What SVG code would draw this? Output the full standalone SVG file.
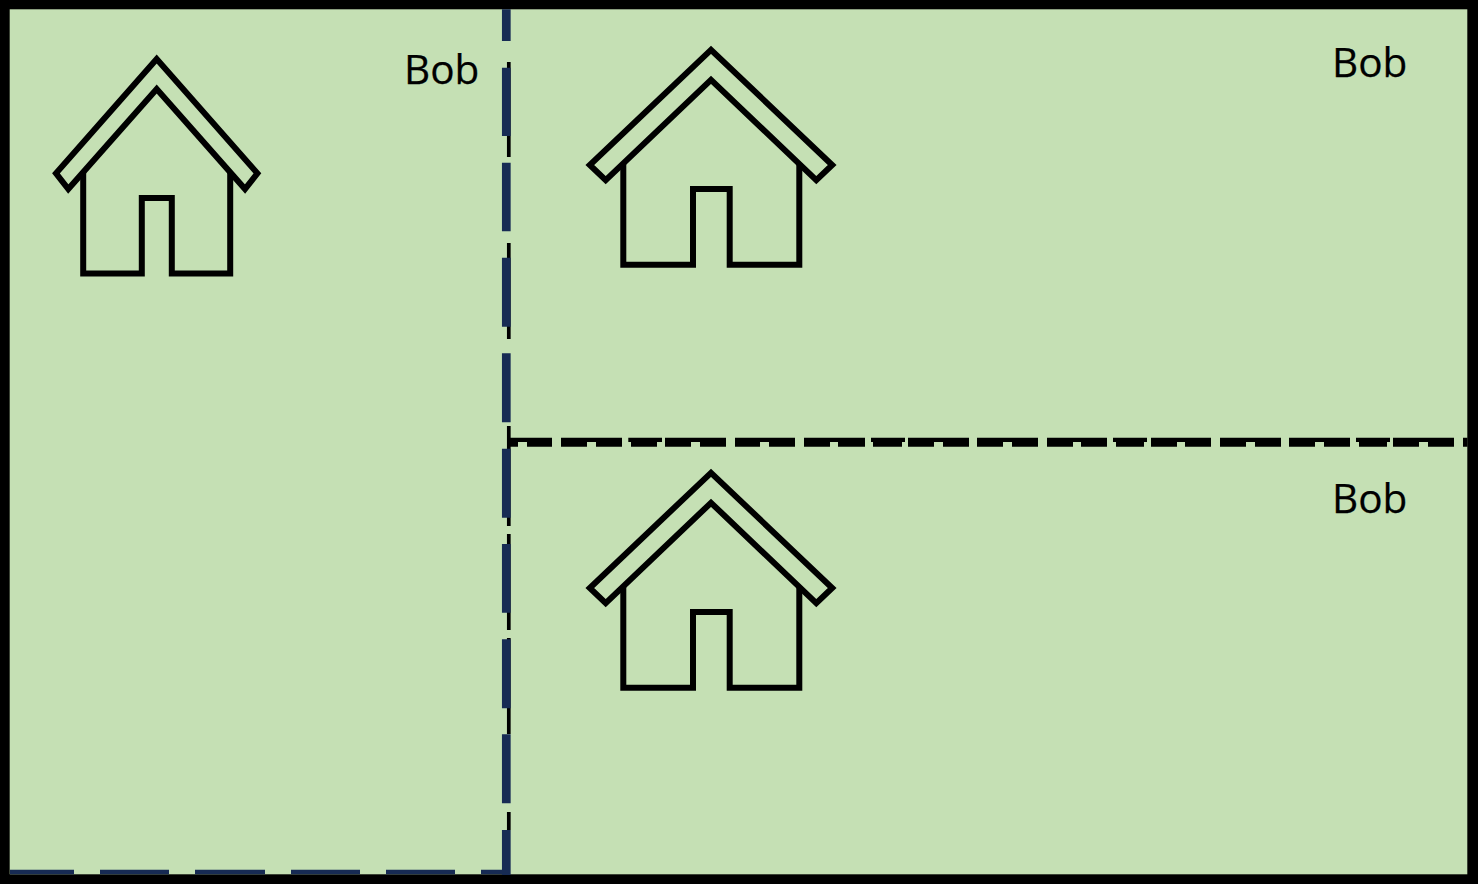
<svg xmlns="http://www.w3.org/2000/svg" width="1478" height="884" viewBox="0 0 1478 884">
<style>
.house{fill:none;stroke:#000;stroke-width:6;stroke-miterlimit:10}
.lbl{font-family:"Open Sans","Liberation Sans",sans-serif;font-size:40.5px;fill:#000;stroke:#000;stroke-width:.25}
.blk{fill:none;stroke:#000}
.navy{fill:none;stroke:#172B54}
</style>
<defs>
<g id="big-house">
<path class="house" d="M711 49.8L589.8 165L605.7 180.2L711 79.8L816.3 180.2L832.2 165Z"/>
<path class="house" d="M623.3 163.6V264.7H693V189H729.7V264.7H799.3V163.6"/>
</g>
</defs>
<rect id="frame" width="1478" height="884" fill="#000"/>
<rect id="field" x="9.7" y="9.3" width="1457.6" height="865" fill="#C5E0B4"/>
<g id="connectors">
<path class="blk" stroke-width="3.7" d="M508.8 62V157M508.8 243V339M508.8 426V526M508.8 534V630M508.8 638V734M508.8 812V830"/>
<path class="navy" stroke-width="8.7" d="M506.3 9.3V41M506.3 67.7V136M506.3 162.7V231.3M506.3 257.7V326.7M506.3 353.3V422.3M506.3 448.7V517.7M506.3 544V612.7M506.3 639.3V708.3M506.3 734.3V803.3M506.3 830V875"/>
<path class="navy" stroke-width="4.4" d="M10 872H74M100 872H169M195 872H265M291 872H360M386 872H455M481 872H503"/>
<path class="blk" stroke-width="4.4" d="M510 439.9H552M561 439.9H622M628.3 439.9H662M665 439.9H726M735 439.9H795M804 439.9H865M871 439.9H905M908 439.9H969M977 439.9H1038M1047 439.9H1107M1113 439.9H1147M1151 439.9H1211M1220 439.9H1281M1289 439.9H1350M1356 439.9H1390M1393 439.9H1454M1463 439.9H1467.5"/>
<path class="blk" stroke-width="4.8" d="M510 444.3H518M527 444.3H552M561 444.3H587M596 444.3H622M631 444.3H657M665 444.3H691M700 444.3H726M735 444.3H760M769 444.3H795M804 444.3H830M838 444.3H865M873 444.3H902M908 444.3H934M943 444.3H969M977 444.3H1003M1012 444.3H1038M1047 444.3H1073M1081 444.3H1107M1116 444.3H1144M1151 444.3H1177M1185 444.3H1211M1220 444.3H1246M1255 444.3H1281M1289 444.3H1315M1324 444.3H1350M1359 444.3H1387M1393 444.3H1419M1428 444.3H1454M1463 444.3H1467.5"/>
</g>
<g id="house-left">
<path class="house" d="M156.7 59L56 173.3L68.3 189L156.7 89L245 189L257.4 173.3Z"/>
<path class="house" d="M83.2 172V273.5H141.8V198H171.8V273.5H230.2V172"/>
</g>
<g id="house-top"><use href="#big-house"/></g>
<g id="house-bottom"><use href="#big-house" y="423"/></g>
<g id="label-left"><text class="lbl" x="404" y="84">Bob</text></g>
<g id="label-top"><text class="lbl" x="1332" y="77">Bob</text></g>
<g id="label-bottom"><text class="lbl" x="1332" y="513">Bob</text></g>
</svg>
